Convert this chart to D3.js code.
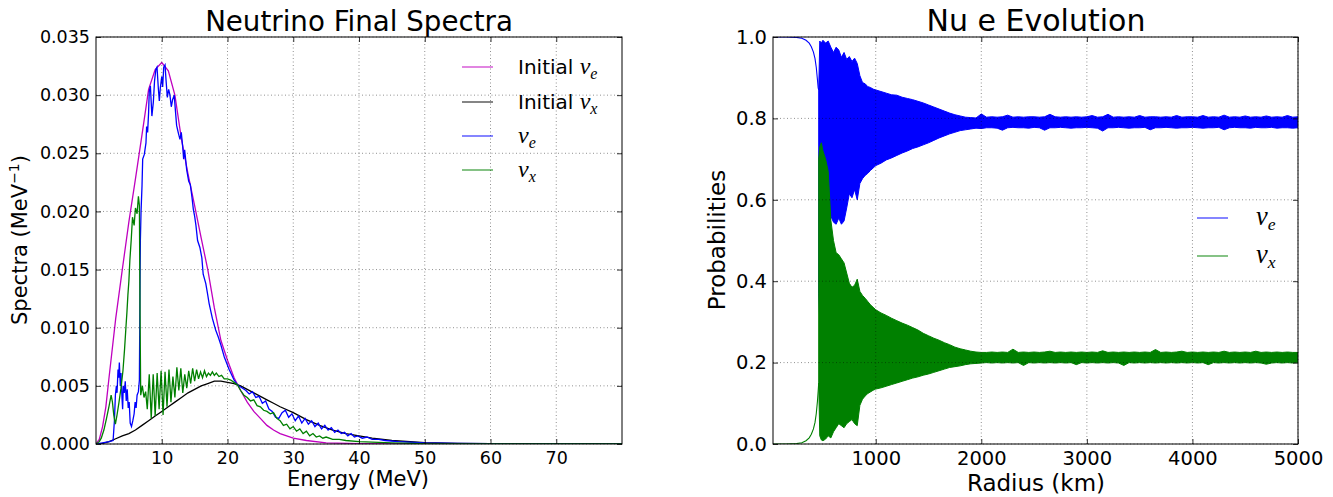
<!DOCTYPE html>
<html>
<head>
<meta charset="utf-8">
<script src="https://cdn.jsdelivr.net/npm/d3@7"></script>
<style>
  body { margin: 0; background: #fff; }
  text { font-family: "DejaVu Sans", sans-serif; fill: #000; }
</style>
</head>
<body>
<svg id="fig" width="1333" height="497"></svg>
<script>
// ---- left panel: spectra, [energy MeV, value] ----
const initialNuE = [[0,0],[0.5,0.0004],[1,0.0015],[1.5,0.0032],[2,0.0058],[3,0.0108],[4,0.0150],[5,0.0191],
  [6,0.0228],[7,0.0266],[8,0.0305],[9,0.0322],[10,0.0328],[11,0.0321],[12,0.0300],[13,0.0262],[14,0.0232],
  [15,0.0205],[16,0.0177],[17,0.0150],[18,0.0117],[19,0.0089],[20,0.0072],[21,0.0057],[22,0.0046],[23,0.0036],
  [24,0.0028],[25,0.0022],[26,0.0016],[27,0.0012],[28,0.0009],[30,0.0005],[32,0.0003],[35,0.0001],[40,0.00003],
  [50,0],[80,0]];

const initialNuX = [[0,0],[1,0.00005],[2,0.0002],[3,0.00045],[4,0.0007],[5,0.0009],[6,0.0012],[7,0.0016],
  [8,0.0020],[9,0.0024],[10,0.0028],[11,0.0032],[12,0.0036],[13,0.0040],[14,0.0044],[15,0.0047],[16,0.0050],
  [17,0.0052],[18,0.0054],[19,0.0054],[20,0.0053],[21,0.0052],[22,0.0050],[23,0.0047],[24,0.0044],[25,0.0041],
  [26,0.0038],[27,0.0035],[28,0.0032],[30,0.0027],[32,0.0021],[34,0.0016],[36,0.0012],[38,0.0009],[40,0.0007],
  [42,0.0005],[45,0.0003],[50,0.00012],[55,0.00005],[60,0.00002],[70,0],[80,0]];

const finalNuE = [[0,0],[1,0.0001],[2,0.0002],[2.6,0.0003],[2.8,0.0020],[2.95,0.0042],[3.1,0.0050],[3.2,0.0044],
  [3.35,0.0064],[3.45,0.0057],[3.55,0.0070],[3.7,0.0050],[3.8,0.0061],[3.95,0.0040],[4.05,0.0030],[4.15,0.0050],
  [4.3,0.0044],[4.45,0.0054],[4.6,0.0037],[4.75,0.0047],[4.9,0.0031],[5.05,0.0036],[5.2,0.0018],[5.4,0.0015],
  [5.6,0.0020],[5.8,0.0026],[5.95,0.0036],[6.1,0.0031],[6.25,0.0042],[6.45,0.0045],[6.6,0.0055],[6.7,0.0140],
  [6.75,0.0175],[6.85,0.0200],[7.0,0.0222],[7.1,0.0245],[7.35,0.0249],[7.6,0.0259],[7.7,0.0273],[7.85,0.0268],
  [8.0,0.0285],[8.1,0.0303],[8.27,0.0308],[8.5,0.0282],[8.72,0.0294],[8.9,0.0312],[9.1,0.0322],[9.28,0.0324],
  [9.48,0.0306],[9.63,0.0295],[9.78,0.0306],[10.0,0.0316],[10.14,0.0307],[10.3,0.0324],[10.5,0.0326],
  [10.65,0.0313],[10.85,0.0298],[11.05,0.0305],[11.25,0.0300],[11.45,0.0290],[11.65,0.0296],[11.9,0.0300],
  [12.06,0.0288],[12.26,0.0274],[12.5,0.0268],[12.77,0.0262],[12.97,0.0268],[13.18,0.0256],[13.33,0.0245],
  [13.48,0.0253],[13.79,0.0236],[14.1,0.0226],[14.35,0.0223],[14.6,0.0212],[14.8,0.0202],[15.0,0.0196],
  [15.2,0.0188],[15.45,0.0175],[15.8,0.0169],[16.1,0.0160],[16.3,0.0146],[16.7,0.0138],[16.97,0.0129],
  [17.2,0.0121],[17.7,0.0108],[18.2,0.0098],[18.6,0.0092],[19.0,0.0085],[19.5,0.0075],[20.25,0.0064],
  [21.0,0.0055],[21.5,0.0051],[22.3,0.0048],[22.8,0.0046],[23.3,0.0043],[23.8,0.0045],[24.3,0.0040],
  [24.8,0.0041],[25.3,0.0035],[25.8,0.0037],[26.3,0.0030],[26.8,0.0028],[27.3,0.0023],[27.8,0.0022],
  [28.3,0.0027],[28.8,0.0029],[29.3,0.0023],[29.8,0.0026],[30.3,0.0020],[30.8,0.0024],[31.3,0.0018],
  [31.8,0.0022],[32.3,0.0017],[32.8,0.0020],[33.3,0.0015],[33.8,0.0018],[34.3,0.0013],[34.8,0.0016],
  [35.3,0.0012],[35.8,0.0014],[36.3,0.0010],[36.8,0.0012],[37.3,0.0009],[37.8,0.0010],[38.3,0.0007],
  [38.8,0.0009],[39.3,0.0006],[39.8,0.0007],[40.5,0.0005],[41.2,0.0006],[42,0.0004],[43,0.0004],[44,0.0003],
  [46,0.0002],[50,0.0001],[55,0.00005],[60,0.00002],[80,0]];

const finalNuX = [[0,0],[0.5,0.0002],[0.8,0.0005],[1.2,0.0012],[1.6,0.0022],[2.0,0.0033],[2.3,0.0042],
  [2.5,0.0036],[2.7,0.0025],[2.95,0.0017],[3.2,0.0025],[3.5,0.0036],[3.8,0.0048],[4.1,0.0063],[4.35,0.0082],
  [4.55,0.0100],[4.7,0.0113],[4.85,0.0128],[5.0,0.0140],[5.15,0.0158],[5.35,0.0175],[5.55,0.0195],[5.8,0.0188],
  [6.0,0.0203],[6.25,0.0198],[6.45,0.0213],[6.6,0.0205],[6.7,0.0110],[6.8,0.0042],[7.05,0.0050],[7.3,0.0040],
  [7.55,0.0045],[7.8,0.0030],[8.1,0.0060],[8.4,0.0022],[8.7,0.0060],[9.0,0.0024],[9.3,0.0061],[9.6,0.0030],
  [9.9,0.0063],[10.2,0.0025],[10.5,0.0062],[10.8,0.0032],[11.1,0.0064],[11.4,0.0036],[11.7,0.0058],[12.0,0.0040],
  [12.3,0.0066],[12.6,0.0046],[12.9,0.0065],[13.2,0.0044],[13.5,0.0060],[13.8,0.0048],[14.1,0.0063],[14.4,0.0052],
  [14.7,0.0065],[15.0,0.0054],[15.3,0.0064],[15.6,0.0056],[15.9,0.0062],[16.2,0.0057],[16.5,0.0063],[16.8,0.0058],
  [17.1,0.0061],[17.4,0.0059],[17.7,0.0062],[18.0,0.0059],[18.3,0.0061],[18.7,0.0058],[19.1,0.0059],[19.5,0.0056],
  [20.0,0.0056],[20.5,0.0055],[21.0,0.0053],[21.5,0.0051],[22.0,0.0046],[22.5,0.0042],[23.0,0.0040],[23.5,0.0037],
  [24.0,0.0038],[24.5,0.0033],[25.0,0.0032],[25.5,0.0029],[26.0,0.0028],[26.5,0.0026],[27.0,0.0027],[27.5,0.0022],
  [28.0,0.0020],[28.5,0.0016],[29.0,0.0017],[29.5,0.0013],[30.0,0.0015],[30.5,0.0011],[31.0,0.0013],[31.5,0.0009],
  [32.0,0.0011],[32.5,0.0007],[33.0,0.0009],[33.5,0.0006],[34.0,0.0007],[34.5,0.0005],[35.0,0.0006],[36,0.0004],
  [37,0.0004],[38,0.0003],[40,0.0002],[45,0.0001],[50,0.00003],[80,0]];

const energyTicks = [10, 20, 30, 40, 50, 60, 70];
const spectraTicks = [0, 0.005, 0.010, 0.015, 0.020, 0.025, 0.030, 0.035];

// ---- right panel: probabilities vs radius ----
// smooth part before the oscillations: [radius km, probability]
const nuESmooth = [[27,1],[150,1],[250,0.999],[300,0.997],[340,0.992],[370,0.985],[390,0.976],[410,0.963],
  [425,0.947],[437,0.925],[448,0.895],[455,0.875],[460,0.87]];
const nuXSmooth = [[27,0],[150,0],[250,0.001],[300,0.003],[340,0.008],[370,0.015],[390,0.024],[410,0.037],
  [425,0.053],[437,0.075],[448,0.105],[455,0.13],[460,0.15]];

// fast oscillation envelope: [radius km, lowest, highest]
const nuEBand = [[460,0.37,0.87],[470,0.30,0.99],[485,0.30,0.985],[500,0.30,0.992],[525,0.34,0.985],
  [550,0.48,0.99],[575,0.56,0.975],[600,0.545,0.962],[625,0.54,0.975],[650,0.555,0.968],[675,0.54,0.95],
  [700,0.548,0.962],[725,0.58,0.945],[750,0.615,0.952],[775,0.605,0.94],[800,0.625,0.948],[825,0.60,0.935],
  [850,0.64,0.905],[875,0.652,0.888],[900,0.66,0.885],[925,0.665,0.878],[950,0.672,0.876],[975,0.678,0.872],
  [1000,0.684,0.87],[1050,0.69,0.866],[1100,0.698,0.862],[1150,0.703,0.858],[1200,0.709,0.857],[1250,0.715,0.852],
  [1300,0.72,0.849],[1350,0.726,0.846],[1400,0.73,0.842],[1450,0.735,0.838],[1500,0.74,0.833],[1550,0.746,0.828],
  [1600,0.752,0.823],[1650,0.757,0.818],[1700,0.762,0.813],[1750,0.766,0.809],[1800,0.77,0.806],[1850,0.772,0.803],
  [1900,0.774,0.802],[1950,0.776,0.801],[2000,0.775,0.811],[2050,0.777,0.803],[2100,0.777,0.804],[2150,0.776,0.803],
  [2200,0.771,0.804],[2250,0.777,0.808],[2300,0.778,0.803],[2350,0.777,0.804],[2400,0.777,0.803],[2450,0.776,0.804],
  [2500,0.778,0.804],[2550,0.777,0.803],[2600,0.771,0.804],[2650,0.777,0.810],[2700,0.777,0.804],[2750,0.778,0.803],
  [2800,0.777,0.804],[2850,0.776,0.803],[2900,0.777,0.804],[2950,0.777,0.803],[3000,0.778,0.804],[3050,0.777,0.807],
  [3100,0.776,0.803],[3150,0.769,0.804],[3200,0.777,0.810],[3250,0.777,0.803],[3300,0.778,0.804],[3350,0.777,0.803],
  [3400,0.776,0.804],[3450,0.777,0.803],[3500,0.777,0.807],[3550,0.778,0.803],[3600,0.772,0.804],[3650,0.777,0.804],
  [3700,0.777,0.803],[3750,0.778,0.804],[3800,0.777,0.803],[3850,0.776,0.807],[3900,0.777,0.803],[3950,0.777,0.804],
  [4000,0.778,0.804],[4050,0.777,0.803],[4100,0.776,0.807],[4150,0.777,0.803],[4200,0.777,0.804],[4250,0.778,0.803],
  [4300,0.772,0.808],[4350,0.777,0.803],[4400,0.778,0.804],[4450,0.777,0.803],[4500,0.777,0.806],[4550,0.776,0.803],
  [4600,0.778,0.804],[4650,0.777,0.803],[4700,0.777,0.806],[4750,0.778,0.803],[4800,0.776,0.804],[4850,0.777,0.803],
  [4900,0.777,0.807],[4950,0.776,0.803],[5000,0.777,0.804]];

const nuXBand = [[460,0.15,0.70],[470,0.02,0.73],[485,0.01,0.74],[500,0.008,0.72],[525,0.012,0.70],
  [550,0.02,0.67],[575,0.015,0.55],[600,0.03,0.50],[625,0.04,0.47],[650,0.05,0.465],[675,0.045,0.455],
  [700,0.04,0.445],[725,0.05,0.42],[750,0.055,0.395],[775,0.06,0.385],[800,0.05,0.39],[825,0.045,0.405],
  [850,0.095,0.375],[875,0.11,0.365],[900,0.118,0.358],[925,0.124,0.35],[950,0.128,0.342],[975,0.132,0.336],
  [1000,0.135,0.33],[1050,0.138,0.322],[1100,0.142,0.316],[1150,0.146,0.309],[1200,0.15,0.303],[1250,0.154,0.297],
  [1300,0.158,0.292],[1350,0.162,0.286],[1400,0.165,0.28],[1450,0.169,0.272],[1500,0.172,0.266],[1550,0.176,0.26],
  [1600,0.18,0.255],[1650,0.184,0.249],[1700,0.188,0.244],[1750,0.19,0.238],[1800,0.192,0.234],[1850,0.195,0.231],
  [1900,0.197,0.228],[1950,0.198,0.226],[2000,0.199,0.225],[2050,0.200,0.225],[2100,0.199,0.226],[2150,0.200,0.225],
  [2200,0.199,0.226],[2250,0.200,0.225],[2300,0.199,0.233],[2350,0.200,0.225],[2400,0.193,0.226],[2450,0.200,0.225],
  [2500,0.199,0.226],[2550,0.200,0.225],[2600,0.199,0.226],[2650,0.200,0.228],[2700,0.199,0.225],[2750,0.200,0.226],
  [2800,0.199,0.225],[2850,0.200,0.226],[2900,0.195,0.225],[2950,0.200,0.226],[3000,0.199,0.225],[3050,0.200,0.226],
  [3100,0.199,0.225],[3150,0.200,0.229],[3200,0.199,0.225],[3250,0.200,0.226],[3300,0.199,0.225],[3350,0.193,0.226],
  [3400,0.200,0.225],[3450,0.199,0.226],[3500,0.200,0.225],[3550,0.199,0.226],[3600,0.200,0.225],[3650,0.199,0.232],
  [3700,0.200,0.225],[3750,0.199,0.226],[3800,0.200,0.225],[3850,0.199,0.226],[3900,0.200,0.228],[3950,0.199,0.225],
  [4000,0.200,0.226],[4050,0.199,0.225],[4100,0.200,0.226],[4150,0.195,0.225],[4200,0.200,0.226],[4250,0.199,0.225],
  [4300,0.200,0.228],[4350,0.199,0.225],[4400,0.200,0.226],[4450,0.199,0.225],[4500,0.200,0.226],[4550,0.199,0.225],
  [4600,0.200,0.228],[4650,0.199,0.225],[4700,0.196,0.226],[4750,0.199,0.225],[4800,0.200,0.226],[4850,0.199,0.225],
  [4900,0.200,0.226],[4950,0.199,0.225],[5000,0.200,0.225]];

const radiusTicks = [1000, 2000, 3000, 4000, 5000];
const probTicks = [0, 0.2, 0.4, 0.6, 0.8, 1.0];

const colors = { magenta: "#bf00bf", black: "#000000", blue: "#0000ff", green: "#008000" };

const svg = d3.select("#fig");

// frame, inward ticks on four sides, dotted grid, tick labels
function drawAxes(g, x, y, xTicks, yTicks, xFmt, yFmt, fontSize, padX, padY) {
  const [x0, x1] = x.range();
  const [y0, y1] = y.range();

  g.append("g")
    .attr("transform", `translate(0,${y0})`)
    .call(d3.axisBottom(x).tickValues(xTicks).tickFormat(xFmt).tickSizeInner(-5).tickSizeOuter(0).tickPadding(padX))
    .call(a => a.select(".domain").remove());
  g.append("g")
    .attr("transform", `translate(${x0},0)`)
    .call(d3.axisLeft(y).tickValues(yTicks).tickFormat(yFmt).tickSizeInner(-5).tickSizeOuter(0).tickPadding(padY))
    .call(a => a.select(".domain").remove());
  g.append("g")
    .attr("transform", `translate(0,${y1})`)
    .call(d3.axisTop(x).tickValues(xTicks).tickFormat("").tickSizeInner(-5).tickSizeOuter(0))
    .call(a => a.select(".domain").remove());
  g.append("g")
    .attr("transform", `translate(${x1},0)`)
    .call(d3.axisRight(y).tickValues(yTicks).tickFormat("").tickSizeInner(-5).tickSizeOuter(0))
    .call(a => a.select(".domain").remove());

  g.selectAll(".tick text")
    .style("font-family", "'DejaVu Sans', sans-serif")
    .style("font-size", fontSize + "px")
    .attr("fill", "#000");
  g.selectAll(".tick line").attr("stroke", "#000").attr("stroke-width", 0.8);

  // grid sits on top of the curves
  const grid = g.append("g")
    .attr("stroke", "#000")
    .attr("stroke-opacity", 0.55)
    .attr("stroke-width", 0.8)
    .attr("stroke-dasharray", "1,2.5");
  grid.selectAll("line.gx")
    .data(xTicks)
    .join("line")
      .attr("class", "gx")
      .attr("x1", d => x(d)).attr("x2", d => x(d))
      .attr("y1", y0).attr("y2", y1);
  grid.selectAll("line.gy")
    .data(yTicks)
    .join("line")
      .attr("class", "gy")
      .attr("x1", x0).attr("x2", x1)
      .attr("y1", d => y(d)).attr("y2", d => y(d));

  g.append("rect")
    .attr("x", x0).attr("y", y1)
    .attr("width", x1 - x0).attr("height", y0 - y1)
    .attr("fill", "none")
    .attr("stroke", "#000")
    .attr("stroke-width", 1);
}

function legendEntry(g, xLine, xText, yRow, color, prefix, sub, size) {
  g.append("line")
    .attr("x1", xLine).attr("x2", xLine + 31)
    .attr("y1", yRow).attr("y2", yRow)
    .attr("stroke", color)
    .attr("stroke-opacity", 0.6)
    .attr("stroke-width", 1.6);
  const t = g.append("text")
    .attr("x", xText).attr("y", yRow + 7)
    .style("font-size", size + "px");
  if (prefix) t.append("tspan").text(prefix);
  t.append("tspan")
    .style("font-family", "'Liberation Serif', serif")
    .style("font-style", "italic")
    .style("font-size", (size * 1.2) + "px")
    .text("ν");
  t.append("tspan")
    .attr("dy", 5)
    .style("font-family", "'Liberation Serif', serif")
    .style("font-style", "italic")
    .style("font-size", (size * 0.8) + "px")
    .text(sub);
}

// ================= left panel =================
const xE = d3.scaleLinear().domain([0, 80]).range([96, 622]);
const yS = d3.scaleLinear().domain([0, 0.035]).range([444, 37]);

const left = svg.append("g");
left.append("clipPath").attr("id", "clipL")
  .append("rect").attr("x", 96).attr("y", 37).attr("width", 526).attr("height", 407);

const specLine = d3.line().x(d => xE(d[0])).y(d => yS(d[1]));

const curves = left.append("g").attr("clip-path", "url(#clipL)").attr("fill", "none").attr("stroke-width", 1.3);
curves.append("path").datum(initialNuE).attr("d", specLine).attr("stroke", colors.magenta);
curves.append("path").datum(initialNuX).attr("d", specLine).attr("stroke", colors.black);
curves.append("path").datum(finalNuE).attr("d", specLine).attr("stroke", colors.blue);
curves.append("path").datum(finalNuX).attr("d", specLine).attr("stroke", colors.green);

drawAxes(left, xE, yS, energyTicks, spectraTicks, d3.format("d"), d3.format(".3f"), 17.5, 7.5, 6);

left.append("text")
  .attr("x", 359).attr("y", 31)
  .attr("text-anchor", "middle")
  .style("font-size", "27.7px")
  .text("Neutrino Final Spectra");

left.append("text")
  .attr("x", 358).attr("y", 486)
  .attr("text-anchor", "middle")
  .style("font-size", "21px")
  .text("Energy (MeV)");

const yLab = left.append("text")
  .attr("transform", "translate(27,240) rotate(-90)")
  .attr("text-anchor", "middle")
  .style("font-size", "21px");
yLab.append("tspan").text("Spectra (MeV");
yLab.append("tspan").attr("dy", -8).style("font-size", "14px").text("−1");
yLab.append("tspan").attr("dy", 8).text(")");

legendEntry(left, 462, 518, 67, colors.magenta, "Initial ", "e", 20);
legendEntry(left, 462, 518, 102, colors.black, "Initial ", "x", 20);
legendEntry(left, 462, 518, 136, colors.blue, null, "e", 20);
legendEntry(left, 462, 518, 170, colors.green, null, "x", 20);

// ================= right panel =================
const xR = d3.scaleLinear().domain([27, 5000]).range([773, 1298]);
const yP = d3.scaleLinear().domain([0, 1]).range([444, 37]);

const right = svg.append("g");
right.append("clipPath").attr("id", "clipR")
  .append("rect").attr("x", 773).attr("y", 37).attr("width", 525).attr("height", 407);

const probLine = d3.line().x(d => xR(d[0])).y(d => yP(d[1]));
const probBand = d3.area().x(d => xR(d[0])).y0(d => yP(d[1])).y1(d => yP(d[2]));

const evo = right.append("g").attr("clip-path", "url(#clipR)");
evo.append("path").datum(nuESmooth).attr("d", probLine)
  .attr("fill", "none").attr("stroke", colors.blue).attr("stroke-width", 1.1);
evo.append("path").datum(nuEBand).attr("d", probBand)
  .attr("fill", colors.blue).attr("stroke", colors.blue).attr("stroke-width", 1);
evo.append("path").datum(nuXSmooth).attr("d", probLine)
  .attr("fill", "none").attr("stroke", colors.green).attr("stroke-width", 1.1);
evo.append("path").datum(nuXBand).attr("d", probBand)
  .attr("fill", colors.green).attr("stroke", colors.green).attr("stroke-width", 1);

drawAxes(right, xR, yP, radiusTicks, probTicks, d3.format("d"), d3.format(".1f"), 19.5, 7, 6);

right.append("text")
  .attr("x", 1036).attr("y", 31)
  .attr("text-anchor", "middle")
  .style("font-size", "30px")
  .text("Nu e Evolution");

right.append("text")
  .attr("x", 1036).attr("y", 491)
  .attr("text-anchor", "middle")
  .style("font-size", "23px")
  .text("Radius (km)");

right.append("text")
  .attr("transform", "translate(725,240) rotate(-90)")
  .attr("text-anchor", "middle")
  .style("font-size", "23px")
  .text("Probabilities");

legendEntry(right, 1197, 1256, 218, colors.blue, null, "e", 22);
legendEntry(right, 1197, 1256, 256, colors.green, null, "x", 22);
</script>
</body>
</html>
